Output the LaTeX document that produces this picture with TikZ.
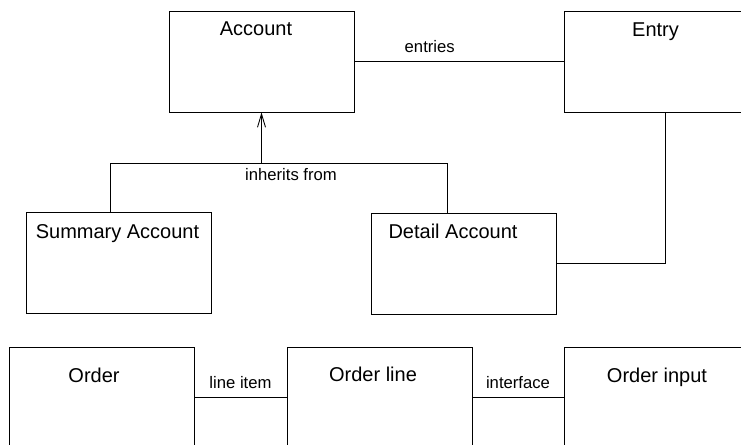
\documentclass[tikz,border=0pt]{standalone}
\usepackage{fontspec}
\setmainfont{Liberation Sans}
\usetikzlibrary{arrows.meta}
\begin{document}
\begin{tikzpicture}[x=0.75pt, y=-0.75pt,
    box/.style={draw, line width=0.65pt, minimum width=138.75pt, minimum height=75.75pt, inner sep=0pt},
    title/.style={anchor=base, font=\fontsize{15}{18}\selectfont},
    lbl/.style={inner sep=0pt, font=\fontsize{12.5}{15}\selectfont},
    link/.style={line width=0.65pt}]
    \clip (0,0) rectangle (741,445);
    % Klassen
    \node[box] (account) at (261.5,61.5) {};
    \node[box] (entry) at (656.5,61.5) {};
    \node[box] (summary) at (119,263) {};
    \node[box] (detail) at (463.5,263.5) {};
    \node[box] (order) at (101.5,397.5) {};
    \node[box] (orderline) at (379.5,397.5) {};
    \node[box] (orderinput) at (656.5,397.5) {};
    % Namen
    \node[title] (accountname) at (256,36) {Account};
    \node[title] (entryname) at (655.5,37) {Entry};
    \node[title] (summaryname) at (117.5,238) {Summary Account};
    \node[title] (detailname) at (453,238) {Detail Account};
    \node[title] (ordername) at (94,382) {Order};
    \node[title] (orderlinename) at (373,381) {Order line};
    \node[title] (orderinputname) at (657,382) {Order input};
    % Assoziationen
    \draw[link] (account) -- node[lbl, above=6pt, pos=0.36] (entrieslbl) {entries} (entry);
    \draw[link] (detail.east) -| ([xshift=6.4pt]entry.south);
    \draw[link] (order) -- node[lbl, above=6pt] (lineitemlbl) {line item} (orderline);
    \draw[link] (orderline) -- node[lbl, above=6pt] (interfacelbl) {interface} (orderinput);
    % Vererbung
    \coordinate (split) at (261.5,163);
    \coordinate (sumjoin) at (110,163);
    \coordinate (detjoin) at (447,163);
    \draw[link, -{Straight Barb[length=10pt, width=6pt]}] (split) -- (account.south);
    \draw[link] (summary.north -| sumjoin) -- (sumjoin) -- (detjoin) -- (detail.north -| detjoin);
    \node[lbl, below=3.75pt] (inheritslbl) at (291,163) {inherits from};
\end{tikzpicture}
\end{document}
